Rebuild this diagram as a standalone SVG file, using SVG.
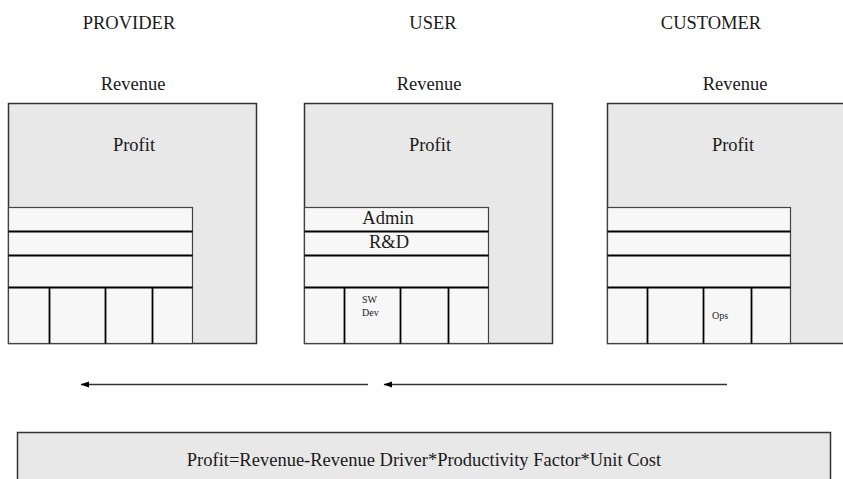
<svg xmlns="http://www.w3.org/2000/svg" width="843" height="479" viewBox="0 0 843 479" font-family="'Liberation Serif', 'DejaVu Serif', serif">
  <style>
    text { font-family: "Liberation Serif", "DejaVu Serif", serif; fill: #1a1a1a; }
    .hdr { font-size: 18.5px; text-anchor: middle; }
    .lbl { font-size: 18.5px; text-anchor: middle; }
    .small { font-size: 10px; }
    .outer { fill: #e8e8e8; stroke: #333; stroke-width: 1.5; }
    .inner { fill: #f7f7f7; stroke: #444; stroke-width: 1.2; }
    .div { stroke: #000; stroke-width: 1.8; fill: none; }
    .conn { stroke: #333; stroke-width: 1.5; fill: none; }
    .formula { fill: #e8e8e8; stroke: #333; stroke-width: 1.5; }
  </style>
  <defs>
    <marker id="head" markerWidth="9" markerHeight="7" refX="8" refY="3.5" orient="auto" markerUnits="userSpaceOnUse">
      <path d="M8.5,3.5 L0,0.5 L0,6.5 Z" fill="#000"/>
    </marker>
  </defs>

  <rect width="843" height="479" fill="#fff"/>

  <!-- PROVIDER column -->
  <g id="provider">
    <text class="hdr" x="129" y="28.5">PROVIDER</text>
    <text class="lbl" x="133" y="89.5">Revenue</text>
    <rect class="outer" x="8.5" y="103.5" width="248" height="240"/>
    <text class="lbl" x="134" y="150.5">Profit</text>
    <rect class="inner" x="8.5" y="207.5" width="184" height="136"/>
    <path class="div" d="M8.5,231.5 H192.5 M8.5,255.5 H192.5 M8.5,287.5 H192.5 M49.5,287.5 V343.5 M105.5,287.5 V343.5 M152.5,287.5 V343.5"/>
  </g>

  <!-- USER column -->
  <g id="user">
    <text class="hdr" x="433" y="28.5">USER</text>
    <text class="lbl" x="429" y="89.5">Revenue</text>
    <rect class="outer" x="304.5" y="103.5" width="248" height="240"/>
    <text class="lbl" x="430" y="150.5">Profit</text>
    <rect class="inner" x="304.5" y="207.5" width="184" height="136"/>
    <path class="div" d="M304.5,231.5 H488.5 M304.5,255.5 H488.5 M304.5,287.5 H488.5 M344.5,287.5 V343.5 M400.5,287.5 V343.5 M448.5,287.5 V343.5"/>
    <text class="lbl" x="388" y="224">Admin</text>
    <text class="lbl" x="389" y="248">R&amp;D</text>
    <text class="small" x="362" y="303">SW</text>
    <text class="small" x="362" y="316">Dev</text>
  </g>

  <!-- CUSTOMER column -->
  <g id="customer">
    <text class="hdr" x="711" y="28.5">CUSTOMER</text>
    <text class="lbl" x="735" y="89.5">Revenue</text>
    <rect class="outer" x="607.5" y="103.5" width="248" height="240"/>
    <text class="lbl" x="733" y="150.5">Profit</text>
    <rect class="inner" x="607.5" y="207.5" width="183" height="136"/>
    <path class="div" d="M607.5,231.5 H790.5 M607.5,255.5 H790.5 M607.5,287.5 H790.5 M647.5,287.5 V343.5 M703.5,287.5 V343.5 M751.5,287.5 V343.5"/>
    <text class="small" x="712" y="319">Ops</text>
  </g>

  <!-- flow arrows -->
  <g id="connectors">
    <line class="conn" x1="368" y1="384.5" x2="81" y2="384.5" marker-end="url(#head)"/>
    <line class="conn" x1="727" y1="384.5" x2="384" y2="384.5" marker-end="url(#head)"/>
  </g>

  <!-- formula bar -->
  <g id="formula">
    <rect class="formula" x="17.5" y="432.5" width="813" height="60"/>
    <text class="lbl" x="424" y="466">Profit=Revenue-Revenue Driver*Productivity Factor*Unit Cost</text>
  </g>
</svg>
